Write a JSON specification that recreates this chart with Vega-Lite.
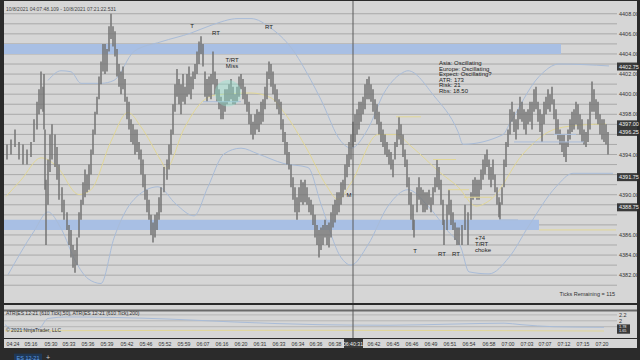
{
  "$schema": "https://vega.github.io/schema/vega-lite/v6.json",
  "background": "#2b2b2b",
  "padding": {"left": 3, "right": 4, "top": 0, "bottom": 0},
  "spacing": 0,
  "config": {"view": {"stroke": null}, "font": "Liberation Sans", "text": {"font": "Liberation Sans"}},
  "datasets": {
    "bars": [
      {"t":6,"h":4395.0,"l":4393.5},{"t":10,"h":4395.5,"l":4394.0},{"t":14,"h":4396.5,"l":4394.75},{"t":18,"h":4395.25,"l":4393.5},
      {"t":22,"h":4395.0,"l":4393.0},{"t":26,"h":4394.5,"l":4393.0},{"t":30,"h":4395.25,"l":4393.75},{"t":33,"h":4397.5,"l":4395.25},
      {"t":36,"h":4399.25,"l":4396.5},{"t":38,"h":4400.5,"l":4398.0},{"t":40,"h":4402.25,"l":4398.5},{"t":42,"h":4400.75,"l":4398.25},
      {"t":43,"h":4402.0,"l":4396.5},{"t":44,"h":4396.5,"l":4390.5},{"t":45,"h":4391.5,"l":4385.0},{"t":47,"h":4393.5,"l":4389.0},
      {"t":49,"h":4396.0,"l":4392.25},{"t":51,"h":4397.0,"l":4393.5},{"t":54,"h":4396.0,"l":4392.75},{"t":56,"h":4394.75,"l":4391.5},
      {"t":58,"h":4393.0,"l":4389.5},{"t":61,"h":4390.75,"l":4388.25},{"t":63,"h":4389.5,"l":4387.5},{"t":66,"h":4388.25,"l":4386.5},
      {"t":68,"h":4387.0,"l":4385.0},{"t":70,"h":4386.5,"l":4383.75},{"t":72,"h":4385.0,"l":4382.75},{"t":74,"h":4384.5,"l":4382.25},
      {"t":76,"h":4385.75,"l":4383.0},{"t":78,"h":4388.25,"l":4385.75},{"t":80,"h":4389.5,"l":4387.5},{"t":82,"h":4391.25,"l":4389.0},
      {"t":84,"h":4392.5,"l":4389.75},{"t":86,"h":4392.0,"l":4390.25},{"t":88,"h":4393.0,"l":4390.5},{"t":90,"h":4394.5,"l":4392.0},
      {"t":92,"h":4396.5,"l":4394.0},{"t":94,"h":4398.25,"l":4396.0},{"t":96,"h":4399.75,"l":4398.0},{"t":98,"h":4401.75,"l":4399.5},
      {"t":100,"h":4403.25,"l":4401.0},{"t":102,"h":4405.0,"l":4402.25},{"t":104,"h":4405.0,"l":4402.0},{"t":106,"h":4404.5,"l":4402.25},
      {"t":108,"h":4406.75,"l":4404.25},{"t":110,"h":4408.0,"l":4405.5},{"t":112,"h":4406.75,"l":4404.75},{"t":114,"h":4406.25,"l":4403.75},
      {"t":116,"h":4404.5,"l":4401.75},{"t":118,"h":4403.0,"l":4400.75},{"t":120,"h":4402.25,"l":4400.0},{"t":122,"h":4402.75,"l":4400.5},
      {"t":124,"h":4401.5,"l":4399.25},{"t":126,"h":4399.75,"l":4397.5},{"t":128,"h":4399.25,"l":4396.5},{"t":130,"h":4397.5,"l":4395.25},
      {"t":132,"h":4397.0,"l":4395.0},{"t":134,"h":4396.5,"l":4394.0},{"t":136,"h":4396.5,"l":4394.25},{"t":138,"h":4395.25,"l":4393.5},
      {"t":140,"h":4394.5,"l":4392.0},{"t":142,"h":4393.5,"l":4390.75},{"t":144,"h":4392.0,"l":4389.5},{"t":146,"h":4390.5,"l":4388.25},
      {"t":148,"h":4389.5,"l":4387.5},{"t":150,"h":4388.0,"l":4386.0},{"t":152,"h":4387.25,"l":4385.25},{"t":154,"h":4388.0,"l":4385.75},
      {"t":156,"h":4388.25,"l":4386.5},{"t":158,"h":4389.75,"l":4387.5},{"t":160,"h":4390.75,"l":4388.25},{"t":163,"h":4392.75,"l":4390.25},
      {"t":166,"h":4393.5,"l":4391.5},{"t":168,"h":4395.0,"l":4392.5},{"t":170,"h":4396.5,"l":4394.0},{"t":172,"h":4399.0,"l":4396.0},
      {"t":174,"h":4401.0,"l":4398.25},{"t":176,"h":4402.5,"l":4399.75},{"t":178,"h":4401.5,"l":4399.0},{"t":180,"h":4401.0,"l":4398.0},
      {"t":182,"h":4402.0,"l":4399.25},{"t":184,"h":4400.75,"l":4399.0},{"t":186,"h":4402.0,"l":4399.75},{"t":188,"h":4402.75,"l":4400.0},
      {"t":190,"h":4401.75,"l":4399.5},{"t":192,"h":4402.25,"l":4400.5},{"t":194,"h":4403.0,"l":4401.5},{"t":196,"h":4404.25,"l":4402.0},
      {"t":198,"h":4405.25,"l":4403.0},{"t":200,"h":4405.75,"l":4404.0},{"t":202,"h":4405.0,"l":4402.75},{"t":204,"h":4402.25,"l":4399.75},
      {"t":206,"h":4401.5,"l":4399.25},{"t":208,"h":4401.75,"l":4399.75},{"t":210,"h":4402.0,"l":4399.5},{"t":212,"h":4404.25,"l":4401.0},
      {"t":214,"h":4402.25,"l":4400.0},{"t":216,"h":4401.5,"l":4399.25},{"t":218,"h":4400.5,"l":4398.5},{"t":220,"h":4399.75,"l":4397.5},
      {"t":222,"h":4399.25,"l":4397.5},{"t":224,"h":4400.5,"l":4398.25},{"t":226,"h":4400.5,"l":4399.0},{"t":228,"h":4401.0,"l":4399.25},
      {"t":230,"h":4401.5,"l":4399.5},{"t":232,"h":4400.75,"l":4399.0},{"t":234,"h":4400.0,"l":4399.0},{"t":236,"h":4400.75,"l":4399.25},
      {"t":238,"h":4401.75,"l":4399.75},{"t":240,"h":4402.0,"l":4400.5},{"t":242,"h":4401.5,"l":4399.5},{"t":244,"h":4400.75,"l":4399.0},
      {"t":246,"h":4400.0,"l":4398.25},{"t":248,"h":4399.25,"l":4397.0},{"t":250,"h":4398.0,"l":4396.0},{"t":252,"h":4397.25,"l":4395.5},
      {"t":254,"h":4398.0,"l":4396.0},{"t":256,"h":4398.5,"l":4396.5},{"t":258,"h":4398.25,"l":4396.25},{"t":260,"h":4399.25,"l":4397.0},
      {"t":262,"h":4399.5,"l":4397.25},{"t":264,"h":4400.75,"l":4398.5},{"t":266,"h":4402.25,"l":4399.5},{"t":268,"h":4403.25,"l":4401.5},
      {"t":270,"h":4403.0,"l":4400.75},{"t":272,"h":4402.25,"l":4400.0},{"t":274,"h":4401.0,"l":4399.25},{"t":276,"h":4400.5,"l":4398.5},
      {"t":278,"h":4399.5,"l":4398.0},{"t":280,"h":4399.25,"l":4396.5},{"t":282,"h":4397.5,"l":4395.25},{"t":284,"h":4396.25,"l":4394.0},
      {"t":286,"h":4395.25,"l":4393.0},{"t":288,"h":4394.25,"l":4392.5},{"t":290,"h":4393.0,"l":4390.75},{"t":292,"h":4391.75,"l":4389.5},
      {"t":294,"h":4390.75,"l":4388.25},{"t":296,"h":4389.75,"l":4387.5},{"t":298,"h":4390.75,"l":4388.25},{"t":300,"h":4391.5,"l":4389.25},
      {"t":302,"h":4391.25,"l":4389.0},{"t":304,"h":4391.5,"l":4389.25},{"t":306,"h":4390.75,"l":4389.0},{"t":308,"h":4389.75,"l":4388.25},
      {"t":310,"h":4389.5,"l":4388.0},{"t":312,"h":4389.0,"l":4387.0},{"t":314,"h":4388.0,"l":4385.75},{"t":316,"h":4387.0,"l":4385.0},
      {"t":318,"h":4386.5,"l":4383.75},{"t":320,"h":4386.75,"l":4384.5},{"t":322,"h":4387.0,"l":4385.0},{"t":324,"h":4387.5,"l":4385.75},
      {"t":326,"h":4387.0,"l":4385.0},{"t":328,"h":4387.25,"l":4384.75},{"t":330,"h":4388.25,"l":4385.75},{"t":332,"h":4389.0,"l":4386.75},
      {"t":334,"h":4389.5,"l":4387.25},{"t":336,"h":4390.25,"l":4388.0},{"t":338,"h":4390.25,"l":4388.25},{"t":340,"h":4391.25,"l":4389.0},
      {"t":342,"h":4391.5,"l":4389.75},{"t":344,"h":4393.0,"l":4390.5},{"t":346,"h":4394.0,"l":4391.75},{"t":348,"h":4395.25,"l":4392.75},
      {"t":350,"h":4396.0,"l":4393.5},{"t":352,"h":4397.25,"l":4394.75},{"t":354,"h":4398.0,"l":4395.25},{"t":356,"h":4398.5,"l":4396.0},
      {"t":358,"h":4399.25,"l":4396.5},{"t":360,"h":4399.25,"l":4397.25},{"t":362,"h":4399.75,"l":4398.0},{"t":364,"h":4401.0,"l":4398.5},
      {"t":366,"h":4401.5,"l":4399.5},{"t":368,"h":4401.75,"l":4399.5},{"t":370,"h":4401.0,"l":4399.25},{"t":372,"h":4400.5,"l":4398.25},
      {"t":374,"h":4399.5,"l":4397.5},{"t":376,"h":4399.0,"l":4397.0},{"t":378,"h":4398.25,"l":4396.0},{"t":380,"h":4397.25,"l":4395.25},
      {"t":382,"h":4396.5,"l":4394.75},{"t":384,"h":4396.0,"l":4394.0},{"t":386,"h":4395.25,"l":4393.75},{"t":388,"h":4394.5,"l":4393.0},
      {"t":390,"h":4394.25,"l":4392.5},{"t":392,"h":4393.5,"l":4391.75},{"t":394,"h":4395.25,"l":4393.5},{"t":396,"h":4396.5,"l":4394.75},
      {"t":398,"h":4397.75,"l":4395.5},{"t":400,"h":4397.0,"l":4395.0},{"t":402,"h":4396.0,"l":4393.75},{"t":404,"h":4394.5,"l":4392.75},
      {"t":406,"h":4393.5,"l":4390.75},{"t":408,"h":4391.75,"l":4389.0},{"t":410,"h":4390.25,"l":4387.5},{"t":412,"h":4389.0,"l":4386.5},
      {"t":413,"h":4387.5,"l":4385.75},{"t":416,"h":4390.75,"l":4388.25},{"t":418,"h":4391.75,"l":4389.5},{"t":420,"h":4390.75,"l":4389.0},
      {"t":422,"h":4390.5,"l":4388.25},{"t":424,"h":4390.25,"l":4388.25},{"t":426,"h":4390.25,"l":4388.5},{"t":428,"h":4390.5,"l":4389.0},
      {"t":430,"h":4389.75,"l":4388.25},{"t":432,"h":4390.75,"l":4389.0},{"t":434,"h":4391.75,"l":4390.25},{"t":436,"h":4393.5,"l":4390.75},
      {"t":438,"h":4392.75,"l":4390.5},{"t":440,"h":4391.5,"l":4389.0},{"t":442,"h":4389.5,"l":4387.0},{"t":443,"h":4387.5,"l":4385.0},
      {"t":446,"h":4389.0,"l":4386.5},{"t":448,"h":4390.5,"l":4388.0},{"t":450,"h":4389.5,"l":4387.0},{"t":452,"h":4388.25,"l":4386.5},
      {"t":454,"h":4387.25,"l":4385.5},{"t":456,"h":4386.75,"l":4385.0},{"t":458,"h":4386.75,"l":4385.0},{"t":461,"h":4387.0,"l":4385.0},
      {"t":464,"h":4389.0,"l":4386.5},{"t":467,"h":4388.25,"l":4385.0},{"t":470,"h":4390.25,"l":4387.5},{"t":472,"h":4391.5,"l":4389.5},
      {"t":474,"h":4391.75,"l":4389.75},{"t":476,"h":4391.5,"l":4389.5},{"t":478,"h":4391.5,"l":4389.5},{"t":480,"h":4392.5,"l":4390.5},
      {"t":482,"h":4393.5,"l":4391.5},{"t":484,"h":4394.0,"l":4392.0},{"t":486,"h":4394.5,"l":4392.75},{"t":488,"h":4393.5,"l":4391.5},
      {"t":490,"h":4392.75,"l":4390.75},{"t":492,"h":4393.5,"l":4391.5},{"t":494,"h":4392.0,"l":4390.25},{"t":496,"h":4390.75,"l":4389.0},
      {"t":498,"h":4389.75,"l":4387.75},{"t":499,"h":4389.25,"l":4387.5},{"t":501,"h":4390.75,"l":4389.0},{"t":503,"h":4393.5,"l":4390.75},
      {"t":505,"h":4395.25,"l":4392.75},{"t":507,"h":4396.5,"l":4394.75},{"t":509,"h":4398.5,"l":4396.0},{"t":511,"h":4399.25,"l":4397.25},
      {"t":513,"h":4398.25,"l":4396.25},{"t":515,"h":4397.5,"l":4395.5},{"t":517,"h":4398.5,"l":4396.5},{"t":519,"h":4399.75,"l":4397.5},
      {"t":521,"h":4399.25,"l":4397.25},{"t":523,"h":4398.5,"l":4396.5},{"t":525,"h":4398.25,"l":4396.0},{"t":527,"h":4398.5,"l":4397.0},
      {"t":529,"h":4399.25,"l":4397.25},{"t":531,"h":4399.25,"l":4396.5},{"t":533,"h":4400.5,"l":4398.25},{"t":535,"h":4400.75,"l":4398.5},
      {"t":537,"h":4399.25,"l":4397.25},{"t":539,"h":4398.5,"l":4396.25},{"t":541,"h":4398.0,"l":4395.25},{"t":543,"h":4399.25,"l":4397.0},
      {"t":545,"h":4399.75,"l":4398.0},{"t":547,"h":4400.5,"l":4398.5},{"t":549,"h":4400.0,"l":4398.25},{"t":551,"h":4400.75,"l":4399.0},
      {"t":553,"h":4399.5,"l":4397.5},{"t":555,"h":4398.5,"l":4396.0},{"t":557,"h":4397.5,"l":4395.5},{"t":559,"h":4396.5,"l":4395.0},
      {"t":561,"h":4396.0,"l":4394.25},{"t":563,"h":4396.0,"l":4393.75},{"t":565,"h":4395.25,"l":4393.25},{"t":567,"h":4396.5,"l":4394.75},
      {"t":569,"h":4397.5,"l":4395.5},{"t":571,"h":4398.25,"l":4396.25},{"t":573,"h":4398.5,"l":4396.5},{"t":575,"h":4399.25,"l":4397.0},
      {"t":577,"h":4399.0,"l":4396.5},{"t":579,"h":4398.0,"l":4396.0},{"t":581,"h":4397.5,"l":4395.25},{"t":583,"h":4396.5,"l":4395.0},
      {"t":585,"h":4396.25,"l":4394.75},{"t":587,"h":4397.5,"l":4395.25},{"t":589,"h":4399.25,"l":4396.5},{"t":591,"h":4401.25,"l":4398.25},
      {"t":593,"h":4400.5,"l":4398.25},{"t":595,"h":4399.5,"l":4397.5},{"t":597,"h":4399.25,"l":4397.0},{"t":599,"h":4398.0,"l":4396.0},
      {"t":601,"h":4397.5,"l":4395.5},{"t":603,"h":4397.5,"l":4395.25},{"t":605,"h":4397.0,"l":4395.0},{"t":607,"h":4396.25,"l":4394.0}
    ],
    "curves": [
      {"s":"sma","t":5,"p":4389.83},{"s":"sma","t":20,"p":4391.46},{"s":"sma","t":40,"p":4393.67},{"s":"sma","t":55,"p":4392.9},
      {"s":"sma","t":78,"p":4390.02},{"s":"sma","t":90,"p":4390.5},{"s":"sma","t":110,"p":4395.31},{"s":"sma","t":127,"p":4398.19},
      {"s":"sma","t":140,"p":4396.75},{"s":"sma","t":160,"p":4393.39},{"s":"sma","t":165,"p":4392.62},{"s":"sma","t":183,"p":4396.56},
      {"s":"sma","t":200,"p":4399.15},{"s":"sma","t":215,"p":4399.92},{"s":"sma","t":250,"p":4400.12},{"s":"sma","t":270,"p":4399.64},
      {"s":"sma","t":283,"p":4398.19},{"s":"sma","t":307,"p":4394.35},{"s":"sma","t":325,"p":4390.98},{"s":"sma","t":337,"p":4389.54},
      {"s":"sma","t":350,"p":4391.17},{"s":"sma","t":377,"p":4395.98},{"s":"sma","t":395,"p":4395.98},{"s":"sma","t":410,"p":4394.83},
      {"s":"sma","t":440,"p":4392.13},{"s":"sma","t":457,"p":4390.79},{"s":"sma","t":475,"p":4388.87},{"s":"sma","t":490,"p":4389.54},
      {"s":"sma","t":522,"p":4394.06},{"s":"sma","t":555,"p":4396.56},{"s":"sma","t":582,"p":4396.94},{"s":"sma","t":605,"p":4397.04},
      {"s":"ub","t":47,"p":4401.37},{"s":"ub","t":60,"p":4402.33},{"s":"ub","t":70,"p":4402.23},{"s":"ub","t":80,"p":4401.08},
      {"s":"ub","t":100,"p":4401.08},{"s":"ub","t":113,"p":4401.37},{"s":"ub","t":133,"p":4404.25},{"s":"ub","t":160,"p":4405.21},
      {"s":"ub","t":190,"p":4406.08},{"s":"ub","t":210,"p":4406.85},{"s":"ub","t":237,"p":4407.52},{"s":"ub","t":250,"p":4407.52},
      {"s":"ub","t":270,"p":4406.56},{"s":"ub","t":290,"p":4404.64},{"s":"ub","t":310,"p":4401.37},{"s":"ub","t":320,"p":4399.44},
      {"s":"ub","t":340,"p":4395.31},{"s":"ub","t":350,"p":4394.63},{"s":"ub","t":367,"p":4396.56},{"s":"ub","t":383,"p":4400.12},
      {"s":"ub","t":400,"p":4402.04},{"s":"ub","t":407,"p":4402.33},{"s":"ub","t":433,"p":4399.83},{"s":"ub","t":457,"p":4396.27},
      {"s":"ub","t":462,"p":4395.02},{"s":"ub","t":502,"p":4395.98},{"s":"ub","t":508,"p":4396.94},{"s":"ub","t":538,"p":4401.75},
      {"s":"ub","t":558,"p":4403.0},{"s":"ub","t":608,"p":4402.81},
      {"s":"lb","t":7,"p":4382.04},{"s":"lb","t":33,"p":4386.37},{"s":"lb","t":47,"p":4388.29},{"s":"lb","t":60,"p":4386.65},
      {"s":"lb","t":75,"p":4383.29},{"s":"lb","t":87,"p":4381.65},{"s":"lb","t":100,"p":4381.17},{"s":"lb","t":113,"p":4385.69},
      {"s":"lb","t":133,"p":4389.54},{"s":"lb","t":157,"p":4390.79},{"s":"lb","t":175,"p":4389.06},{"s":"lb","t":193,"p":4387.9},
      {"s":"lb","t":207,"p":4390.79},{"s":"lb","t":223,"p":4394.06},{"s":"lb","t":240,"p":4394.63},{"s":"lb","t":257,"p":4394.06},
      {"s":"lb","t":283,"p":4393.1},{"s":"lb","t":307,"p":4392.71},{"s":"lb","t":320,"p":4389.06},{"s":"lb","t":340,"p":4383.77},
      {"s":"lb","t":350,"p":4383.0},{"s":"lb","t":367,"p":4385.02},{"s":"lb","t":387,"p":4388.87},{"s":"lb","t":407,"p":4390.5},
      {"s":"lb","t":427,"p":4388.87},{"s":"lb","t":447,"p":4386.37},{"s":"lb","t":460,"p":4384.73},{"s":"lb","t":468,"p":4382.33},
      {"s":"lb","t":488,"p":4382.13},{"s":"lb","t":508,"p":4383.77},{"s":"lb","t":528,"p":4386.94},{"s":"lb","t":555,"p":4390.79},
      {"s":"lb","t":572,"p":4392.13},{"s":"lb","t":612,"p":4392.13}
    ],
    "zones": [
      {"x1":3,"x2":560,"lo":4404.0,"hi":4405.0},
      {"x1":3,"x2":538,"lo":4386.5,"hi":4387.5}
    ],
    "grid": [
      {"p":4381},{"p":4382},{"p":4383},{"p":4384},{"p":4385},{"p":4386},{"p":4387},{"p":4388},{"p":4389},{"p":4390},
      {"p":4391},{"p":4392},{"p":4393},{"p":4394},{"p":4395},{"p":4396},{"p":4397},{"p":4398},{"p":4399},{"p":4400},
      {"p":4401},{"p":4402},{"p":4403},{"p":4404},{"p":4405},{"p":4406},{"p":4407},{"p":4408}
    ],
    "segs": [
      {"k":"red","x1":395,"x2":420,"p":4397.75},
      {"k":"red","x1":432,"x2":455,"p":4393.5},
      {"k":"red","x1":447,"x2":468,"p":4390.5},
      {"k":"red","x1":463,"x2":491,"p":4389.75},
      {"k":"red","x1":538,"x2":615,"p":4386.5},
      {"k":"purple","x1":202,"x2":240,"p":4399.25},
      {"k":"purple","x1":513,"x2":583,"p":4395.25},
      {"k":"purple","x1":553,"x2":575,"p":4396.0},
      {"k":"purple","x1":498,"x2":517,"p":4387.5}
    ],
    "notes": [
      {"t":191,"p":4406.75,"txt":"T"},{"t":215,"p":4406.08,"txt":"RT"},{"t":268,"p":4406.65,"txt":"RT"},
      {"t":231,"p":4403.39,"txt":"T/RT"},{"t":231,"p":4402.81,"txt":"Miss"},{"t":348,"p":4390.02,"txt":"M"},
      {"t":414,"p":4384.44,"txt":"T"},{"t":441,"p":4384.15,"txt":"RT"},{"t":455,"p":4384.15,"txt":"RT"}
    ],
    "info": [
      {"t":438,"p":4403.07,"txt":"Asia: Oscillating"},{"t":438,"p":4402.52,"txt":"Europe: Oscillating"},
      {"t":438,"p":4401.97,"txt":"Expect: Oscillating?"},{"t":438,"p":4401.43,"txt":"ATR: 173"},
      {"t":438,"p":4400.88,"txt":"Risk: 21"},{"t":438,"p":4400.34,"txt":"Rbs: 18.50"},
      {"t":474,"p":4385.69,"txt":"+74"},{"t":474,"p":4385.12,"txt":"T/RT"},{"t":474,"p":4384.54,"txt":"choke"}
    ],
    "pxlab": [
      {"p":4408,"lab":"4408.00"},{"p":4406,"lab":"4406.00"},{"p":4404,"lab":"4404.00"},{"p":4402,"lab":"4402.00"},
      {"p":4400,"lab":"4400.00"},{"p":4398,"lab":"4398.00"},{"p":4394,"lab":"4394.00"},{"p":4390,"lab":"4390.00"},
      {"p":4386,"lab":"4386.00"},{"p":4384,"lab":"4384.00"},{"p":4382,"lab":"4382.00"}
    ],
    "pxbox": [
      {"p":4402.75,"lab":"4402.75"},{"p":4397.0,"lab":"4397.00"},{"p":4396.25,"lab":"4396.25"},
      {"p":4391.75,"lab":"4391.75"},{"p":4388.75,"lab":"4388.75"}
    ],
    "times": [
      {"t":12,"lab":"04:24"},{"t":30,"lab":"05:16"},{"t":50,"lab":"05:30"},{"t":68,"lab":"05:33"},{"t":87,"lab":"05:36"},
      {"t":106,"lab":"05:39"},{"t":126,"lab":"05:42"},{"t":145,"lab":"05:46"},{"t":164,"lab":"05:52"},{"t":183,"lab":"05:59"},
      {"t":202,"lab":"06:07"},{"t":221,"lab":"06:16"},{"t":240,"lab":"06:20"},{"t":259,"lab":"06:31"},{"t":278,"lab":"06:33"},
      {"t":297,"lab":"06:34"},{"t":315,"lab":"06:36"},{"t":334,"lab":"06:38"},{"t":352,"lab":"06:40:31"},{"t":373,"lab":"06:42"},
      {"t":392,"lab":"06:45"},{"t":411,"lab":"06:46"},{"t":430,"lab":"06:49"},{"t":449,"lab":"06:51"},{"t":468,"lab":"06:54"},
      {"t":488,"lab":"06:58"},{"t":507,"lab":"07:00"},{"t":526,"lab":"07:03"},{"t":544,"lab":"07:07"},{"t":563,"lab":"07:12"},
      {"t":582,"lab":"07:15"},{"t":601,"lab":"07:20"}
    ],
    "atr": [
      {"s":"a50","t":4,"v":1.87},{"s":"a50","t":13,"v":1.71},{"s":"a50","t":37,"v":1.71},{"s":"a50","t":47,"v":2.08},
      {"s":"a50","t":67,"v":2.13},{"s":"a50","t":167,"v":2.06},{"s":"a50","t":233,"v":1.96},{"s":"a50","t":317,"v":1.87},
      {"s":"a50","t":387,"v":1.85},{"s":"a50","t":453,"v":1.89},{"s":"a50","t":503,"v":1.92},{"s":"a50","t":520,"v":1.87},
      {"s":"a50","t":553,"v":1.8},{"s":"a50","t":603,"v":1.78},
      {"s":"a200","t":4,"v":1.66},{"s":"a200","t":300,"v":1.68},{"s":"a200","t":603,"v":1.655}
    ],
    "atrgrid": [{"v":2.2},{"v":2.0},{"v":1.8}],
    "atrlab": [{"v":2.2,"lab":"2.2"},{"v":2.0,"lab":"2"}],
    "atrbox": [{"v":1.795,"lab":"1.78"},{"v":1.648,"lab":"1.65"}]
  },
  "vconcat": [
    {
      "width": 633, "height": 302,
      "view": {"fill": "#d6d6d6", "stroke": null},
      "layer": [
        {"data": {"name": "grid"}, "mark": {"type": "rule", "color": "#a9a9a9", "strokeWidth": 1},
         "encoding": {"y": {"field": "p", "type": "quantitative", "scale": {"domain": [4379.73, 4408.77], "nice": false, "zero": false}, "axis": null},
                      "x": {"datum": 3, "type": "quantitative", "scale": {"domain": [3, 636], "nice": false, "zero": false}, "axis": null},
                      "x2": {"datum": 616}}},
        {"data": {"name": "zones"}, "mark": {"type": "rect", "color": "#a8bfe4"},
         "encoding": {"x": {"field": "x1", "type": "quantitative", "axis": null}, "x2": {"field": "x2"},
                      "y": {"field": "lo", "type": "quantitative", "axis": null}, "y2": {"field": "hi"}}},
        {"data": {"name": "curves"}, "mark": {"type": "line", "strokeWidth": 1, "interpolate": "monotone"},
         "encoding": {"x": {"field": "t", "type": "quantitative", "axis": null},
                      "y": {"field": "p", "type": "quantitative", "axis": null},
                      "color": {"field": "s", "type": "nominal", "legend": null, "scale": {"domain": ["sma", "ub", "lb"], "range": ["#e2d796", "#a9bcd8", "#a9bcd8"]}}}},
        {"data": {"name": "bars"}, "mark": {"type": "rule", "color": "#737373", "strokeWidth": 1.5},
         "encoding": {"x": {"field": "t", "type": "quantitative", "axis": null},
                      "y": {"field": "h", "type": "quantitative", "axis": null}, "y2": {"field": "l"}}},
        {"data": {"name": "segs"}, "mark": {"type": "rule", "strokeWidth": 1},
         "encoding": {"x": {"field": "x1", "type": "quantitative", "axis": null}, "x2": {"field": "x2"},
                      "y": {"field": "p", "type": "quantitative", "axis": null},
                      "color": {"field": "k", "type": "nominal", "legend": null, "scale": {"domain": ["red", "purple"], "range": ["#e06464", "#5b5bd4"]}}}},
        {"data": {"values": [{"t": 227, "p": 4400.1}]}, "mark": {"type": "point", "filled": true, "size": 700, "color": "#8fe3cf", "opacity": 0.4},
         "encoding": {"x": {"field": "t", "type": "quantitative", "axis": null}, "y": {"field": "p", "type": "quantitative", "axis": null}}},
        {"data": {"values": [{}]}, "mark": {"type": "rule", "color": "#5a5a5a", "strokeWidth": 1},
         "encoding": {"x": {"datum": 352, "type": "quantitative", "axis": null}}},
        {"data": {"name": "notes"}, "mark": {"type": "text", "fontSize": 6, "color": "#222222", "align": "center", "baseline": "middle"},
         "encoding": {"x": {"field": "t", "type": "quantitative", "axis": null}, "y": {"field": "p", "type": "quantitative", "axis": null}, "text": {"field": "txt"}}},
        {"data": {"name": "info"}, "mark": {"type": "text", "fontSize": 6, "color": "#222222", "align": "left", "baseline": "middle"},
         "encoding": {"x": {"field": "t", "type": "quantitative", "axis": null}, "y": {"field": "p", "type": "quantitative", "axis": null}, "text": {"field": "txt"}}},
        {"data": {"name": "pxbox"}, "mark": {"type": "bar", "orient": "horizontal", "size": 8, "color": "#3a3a3a"},
         "encoding": {"y": {"field": "p", "type": "quantitative", "axis": null}, "x": {"datum": 616, "type": "quantitative", "axis": null}, "x2": {"datum": 636}}},
        {"data": {"name": "pxlab"}, "mark": {"type": "text", "fontSize": 5.5, "color": "#333333", "align": "left", "baseline": "middle"},
         "encoding": {"y": {"field": "p", "type": "quantitative", "axis": null}, "x": {"datum": 618, "type": "quantitative", "axis": null}, "text": {"field": "lab"}}},
        {"data": {"name": "pxbox"}, "mark": {"type": "text", "fontSize": 5.5, "color": "#f2f2f2", "align": "left", "baseline": "middle"},
         "encoding": {"y": {"field": "p", "type": "quantitative", "axis": null}, "x": {"datum": 618, "type": "quantitative", "axis": null}, "text": {"field": "lab"}}},
        {"data": {"values": [{"txt": "Ticks Remaining = 115"}]}, "mark": {"type": "text", "fontSize": 5.5, "color": "#333333", "align": "right", "baseline": "middle"},
         "encoding": {"y": {"datum": 4380.12, "type": "quantitative", "axis": null}, "x": {"datum": 614, "type": "quantitative", "axis": null}, "text": {"field": "txt"}}},
        {"data": {"values": [{"txt": "10/8/2021 04:07:48.109 - 10/8/2021 07:21:22.531"}]}, "mark": {"type": "text", "fontSize": 5, "color": "#444444", "align": "left", "baseline": "middle"},
         "encoding": {"y": {"datum": 4408.45, "type": "quantitative", "axis": null}, "x": {"datum": 5, "type": "quantitative", "axis": null}, "text": {"field": "txt"}}}
      ]
    },
    {
      "width": 633, "height": 33,
      "view": {"fill": "#d6d6d6", "stroke": null},
      "layer": [
        {"data": {"name": "atrgrid"}, "mark": {"type": "rule", "color": "#b5b5b5", "strokeWidth": 1},
         "encoding": {"y": {"field": "v", "type": "quantitative", "scale": {"domain": [1.588, 2.365], "nice": false, "zero": false}, "axis": null},
                      "x": {"datum": 3, "type": "quantitative", "scale": {"domain": [3, 636], "nice": false, "zero": false}, "axis": null},
                      "x2": {"datum": 616}}},
        {"data": {"values": [{}]}, "mark": {"type": "rule", "color": "#6a6a6a", "strokeWidth": 2},
         "encoding": {"y": {"datum": 2.35, "type": "quantitative", "axis": null}, "x": {"datum": 3, "type": "quantitative", "axis": null}, "x2": {"datum": 636}}},
        {"data": {"name": "atr"}, "mark": {"type": "line", "strokeWidth": 1, "interpolate": "monotone"},
         "encoding": {"x": {"field": "t", "type": "quantitative", "axis": null},
                      "y": {"field": "v", "type": "quantitative", "axis": null},
                      "color": {"field": "s", "type": "nominal", "legend": null, "scale": {"domain": ["a50", "a200"], "range": ["#9ccabb", "#b7cfc6"]}}}},
        {"data": {"values": [{}]}, "mark": {"type": "rule", "color": "#5a5a5a", "strokeWidth": 1},
         "encoding": {"x": {"datum": 352, "type": "quantitative", "axis": null}}},
        {"data": {"name": "atrlab"}, "mark": {"type": "text", "fontSize": 5.5, "color": "#333333", "align": "left", "baseline": "middle"},
         "encoding": {"y": {"field": "v", "type": "quantitative", "axis": null}, "x": {"datum": 618, "type": "quantitative", "axis": null}, "text": {"field": "lab"}}},
        {"data": {"name": "atrbox"}, "mark": {"type": "bar", "orient": "horizontal", "size": 5, "color": "#3a3a3a"},
         "encoding": {"y": {"field": "v", "type": "quantitative", "axis": null}, "x": {"datum": 616, "type": "quantitative", "axis": null}, "x2": {"datum": 629}}},
        {"data": {"name": "atrbox"}, "mark": {"type": "text", "fontSize": 3.8, "color": "#f2f2f2", "align": "left", "baseline": "middle"},
         "encoding": {"y": {"field": "v", "type": "quantitative", "axis": null}, "x": {"datum": 618, "type": "quantitative", "axis": null}, "text": {"field": "lab"}}},
        {"data": {"values": [{"txt": "ATR(ES 12-21 (610 Tick),50), ATR(ES 12-21 (610 Tick),200)"}]}, "mark": {"type": "text", "fontSize": 5, "color": "#333333", "align": "left", "baseline": "middle"},
         "encoding": {"y": {"datum": 2.26, "type": "quantitative", "axis": null}, "x": {"datum": 5, "type": "quantitative", "axis": null}, "text": {"field": "txt"}}},
        {"data": {"values": [{"txt": "© 2021 NinjaTrader, LLC"}]}, "mark": {"type": "text", "fontSize": 5, "color": "#333333", "align": "left", "baseline": "middle"},
         "encoding": {"y": {"datum": 1.68, "type": "quantitative", "axis": null}, "x": {"datum": 5, "type": "quantitative", "axis": null}, "text": {"field": "txt"}}}
      ]
    },
    {
      "width": 633, "height": 9,
      "view": {"fill": "#d6d6d6", "stroke": null},
      "layer": [
        {"data": {"values": [{}]}, "mark": {"type": "rect", "color": "#3a3a3a"},
         "encoding": {"x": {"datum": 343, "type": "quantitative", "scale": {"domain": [3, 636], "nice": false, "zero": false}, "axis": null}, "x2": {"datum": 362}}},
        {"data": {"name": "times"}, "mark": {"type": "text", "fontSize": 5.2, "align": "center", "baseline": "middle"},
         "encoding": {"x": {"field": "t", "type": "quantitative", "axis": null}, "text": {"field": "lab"},
                      "color": {"condition": {"test": "datum.lab === '06:40:31'", "value": "#f2f2f2"}, "value": "#333333"}}}
      ]
    },
    {
      "width": 633, "height": 16,
      "view": {"fill": "#2b2b2b", "stroke": null},
      "layer": [
        {"data": {"values": [{}]}, "mark": {"type": "rect", "color": "#1f3856"},
         "encoding": {"x": {"datum": 13, "type": "quantitative", "scale": {"domain": [3, 636], "nice": false, "zero": false}, "axis": null}, "x2": {"datum": 41},
                      "y": {"datum": 0.15, "type": "quantitative", "scale": {"domain": [0, 1], "nice": false, "zero": false}, "axis": null}, "y2": {"datum": 0.65}}},
        {"data": {"values": [{"txt": "ES 12-21"}]}, "mark": {"type": "text", "fontSize": 5.5, "color": "#5d9ee8", "align": "center", "baseline": "middle"},
         "encoding": {"x": {"datum": 27, "type": "quantitative", "axis": null}, "y": {"datum": 0.4, "type": "quantitative", "axis": null}, "text": {"field": "txt"}}},
        {"data": {"values": [{"txt": "+"}]}, "mark": {"type": "text", "fontSize": 7, "color": "#cfcfcf", "align": "center", "baseline": "middle"},
         "encoding": {"x": {"datum": 47, "type": "quantitative", "axis": null}, "y": {"datum": 0.4, "type": "quantitative", "axis": null}, "text": {"field": "txt"}}}
      ]
    }
  ]
}
